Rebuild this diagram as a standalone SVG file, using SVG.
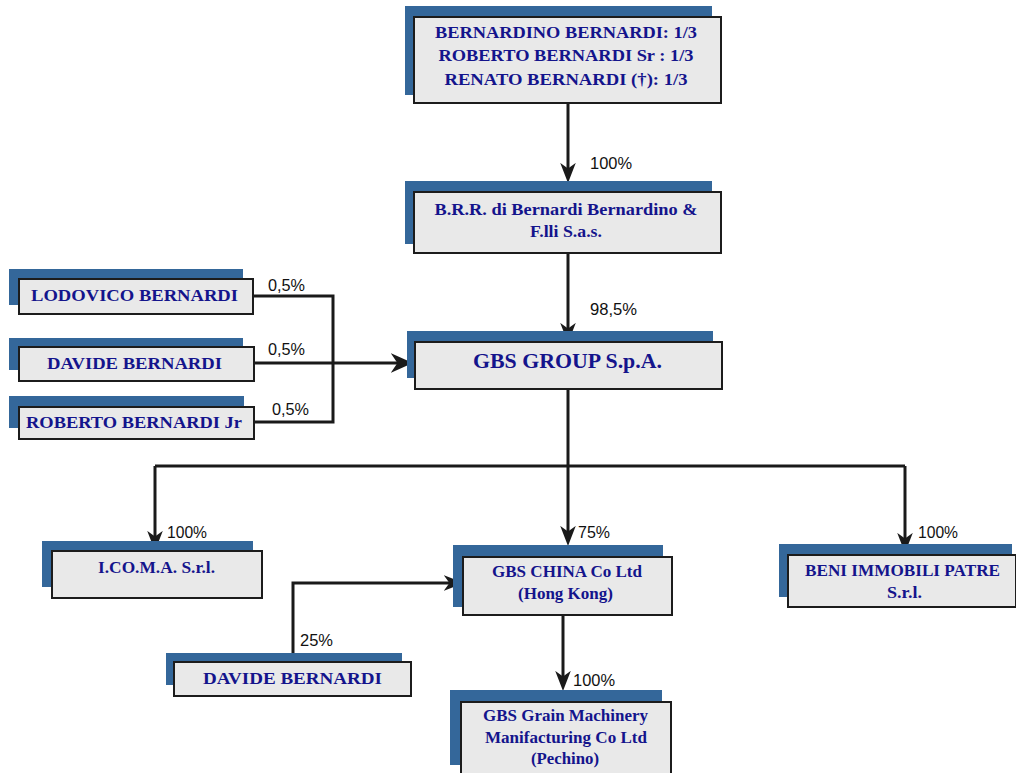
<svg xmlns="http://www.w3.org/2000/svg" width="1016" height="773" viewBox="0 0 1016 773">
<style>
.bk{fill:#34679a}
.fr{fill:#e9e9e9;stroke:#1c1c1c;stroke-width:2}
.t{font-family:"Liberation Serif","Times New Roman",serif;font-weight:bold;font-size:17px;fill:#14148c;text-anchor:middle}
.p{font-family:"Liberation Sans",Arial,sans-serif;font-size:16px;fill:#111}
.c{fill:none;stroke:#1a1a1a;stroke-width:3}
</style>
<defs>
<marker id="ah" markerUnits="userSpaceOnUse" markerWidth="20" markerHeight="16" viewBox="0 0 18 14" refX="10" refY="7" orient="auto">
<path d="M0,0 L18,7 L0,14 L5,7 z" fill="#1a1a1a"/>
</marker>
<marker id="ahb" markerUnits="userSpaceOnUse" markerWidth="22" markerHeight="20" viewBox="0 0 20 18" refX="12" refY="9" orient="auto">
<path d="M0,0 L20,9 L0,18 L6,9 z" fill="#1a1a1a"/>
</marker>
</defs>
<rect width="1016" height="773" fill="#ffffff"/>
<g id="connectors">
<path class="c" d="M568,103 V174" marker-end="url(#ah)"/>
<path class="c" d="M568,253 V334" marker-end="url(#ah)"/>
<path class="c" d="M253,296 H333 V422 H254"/>
<path class="c" d="M254,363 H404" marker-end="url(#ahb)"/>
<path class="c" d="M568,389 V537" marker-end="url(#ah)"/>
<path class="c" d="M155,466 H905"/>
<path class="c" d="M155,466 V542" marker-end="url(#ah)"/>
<path class="c" d="M905,466 V544" marker-end="url(#ah)"/>
<path class="c" d="M293,662 V583 H455" marker-end="url(#ah)"/>
<path class="c" d="M563,615 V682" marker-end="url(#ah)"/>
<text class="p" x="590" y="169" textLength="42" lengthAdjust="spacingAndGlyphs">100%</text>
<text class="p" x="590" y="315" textLength="47" lengthAdjust="spacingAndGlyphs">98,5%</text>
<text class="p" x="268" y="291" textLength="37" lengthAdjust="spacingAndGlyphs">0,5%</text>
<text class="p" x="268" y="355" textLength="37" lengthAdjust="spacingAndGlyphs">0,5%</text>
<text class="p" x="272" y="415" textLength="37" lengthAdjust="spacingAndGlyphs">0,5%</text>
<text class="p" x="167" y="538" textLength="40" lengthAdjust="spacingAndGlyphs">100%</text>
<text class="p" x="578" y="538" textLength="32" lengthAdjust="spacingAndGlyphs">75%</text>
<text class="p" x="918" y="538" textLength="40" lengthAdjust="spacingAndGlyphs">100%</text>
<text class="p" x="300" y="646" textLength="33" lengthAdjust="spacingAndGlyphs">25%</text>
<text class="p" x="573" y="686" textLength="42" lengthAdjust="spacingAndGlyphs">100%</text>
</g>
<g id="owners">
<rect class="bk" x="405" y="6" width="307" height="89"/>
<rect class="fr" x="414" y="17" width="307" height="86"/>
<text class="t" x="566" y="38" textLength="262" lengthAdjust="spacingAndGlyphs">BERNARDINO BERNARDI: 1/3</text>
<text class="t" x="566" y="61" textLength="255" lengthAdjust="spacingAndGlyphs">ROBERTO BERNARDI Sr : 1/3</text>
<text class="t" x="566" y="85" textLength="243" lengthAdjust="spacingAndGlyphs">RENATO BERNARDI (†): 1/3</text>
</g>
<g id="brr">
<rect class="bk" x="405" y="181" width="307" height="63"/>
<rect class="fr" x="414" y="192" width="307" height="61"/>
<text class="t" x="566" y="215" textLength="263" lengthAdjust="spacingAndGlyphs">B.R.R. di Bernardi Bernardino &amp;</text>
<text class="t" x="566" y="237" textLength="72" lengthAdjust="spacingAndGlyphs">F.lli S.a.s.</text>
</g>
<g id="lodovico">
<rect class="bk" x="9" y="269" width="234" height="36"/>
<rect class="fr" x="19" y="279" width="234" height="35"/>
<text class="t" x="134.5" y="301" textLength="207" lengthAdjust="spacingAndGlyphs">LODOVICO BERNARDI</text>
</g>
<g id="davide1">
<rect class="bk" x="9" y="338" width="234" height="32"/>
<rect class="fr" x="19" y="347" width="235" height="34"/>
<text class="t" x="134.5" y="369" textLength="175" lengthAdjust="spacingAndGlyphs">DAVIDE BERNARDI</text>
</g>
<g id="robertojr">
<rect class="bk" x="9" y="396" width="235" height="32"/>
<rect class="fr" x="19" y="407" width="235" height="32"/>
<text class="t" x="134" y="428" textLength="216" lengthAdjust="spacingAndGlyphs">ROBERTO BERNARDI Jr</text>
</g>
<g id="gbsgroup">
<rect class="bk" x="407" y="331" width="306" height="47"/>
<rect class="fr" x="415" y="342" width="307" height="47"/>
<text class="t" x="567.5" y="368" style="font-size:21px" textLength="189" lengthAdjust="spacingAndGlyphs">GBS GROUP S.p.A.</text>
</g>
<g id="icoma">
<rect class="bk" x="42" y="541" width="211" height="46"/>
<rect class="fr" x="52" y="551" width="210" height="47"/>
<text class="t" x="156.5" y="573" textLength="117" lengthAdjust="spacingAndGlyphs">I.CO.M.A. S.r.l.</text>
</g>
<g id="gbschina">
<rect class="bk" x="453" y="545" width="210" height="62"/>
<rect class="fr" x="463" y="557" width="209" height="58"/>
<text class="t" x="567" y="577" textLength="150" lengthAdjust="spacingAndGlyphs">GBS CHINA Co Ltd</text>
<text class="t" x="565.5" y="599" textLength="95" lengthAdjust="spacingAndGlyphs">(Hong Kong)</text>
</g>
<g id="beni">
<rect class="bk" x="779" y="544" width="233" height="53"/>
<rect class="fr" x="788" y="555" width="228" height="52"/>
<text class="t" x="902.5" y="576" textLength="195" lengthAdjust="spacingAndGlyphs">BENI IMMOBILI PATRE</text>
<text class="t" x="904.5" y="598" textLength="35" lengthAdjust="spacingAndGlyphs">S.r.l.</text>
</g>
<g id="davide2">
<rect class="bk" x="166" y="653" width="236" height="32"/>
<rect class="fr" x="174" y="662" width="237" height="34"/>
<text class="t" x="292.5" y="684" textLength="179" lengthAdjust="spacingAndGlyphs">DAVIDE BERNARDI</text>
</g>
<g id="grain">
<rect class="bk" x="450" y="690" width="212" height="75"/>
<rect class="fr" x="461" y="702" width="210" height="75"/>
<text class="t" x="565.5" y="721" textLength="165" lengthAdjust="spacingAndGlyphs">GBS Grain Machinery</text>
<text class="t" x="566" y="743" textLength="162" lengthAdjust="spacingAndGlyphs">Manifacturing Co Ltd</text>
<text class="t" x="565" y="764" textLength="68" lengthAdjust="spacingAndGlyphs">(Pechino)</text>
</g>
</svg>
